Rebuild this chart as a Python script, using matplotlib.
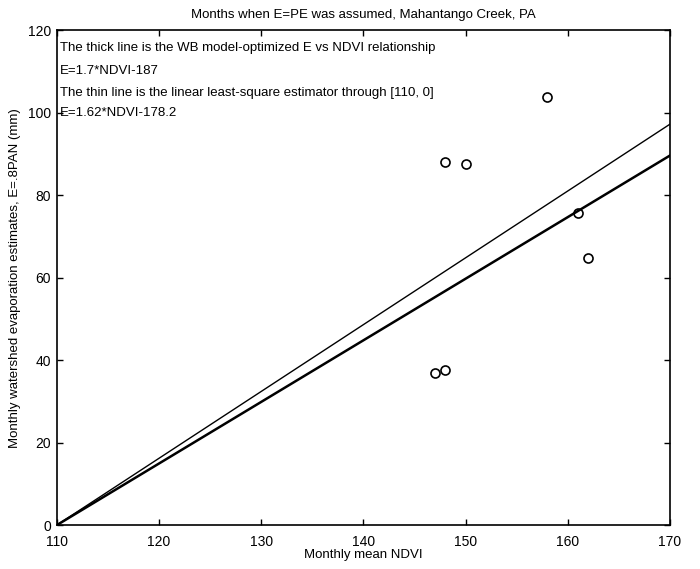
import matplotlib
matplotlib.use("Agg")
import matplotlib.pyplot as plt

# monthly points
ndvi = [147, 148, 148, 150, 158, 161, 162]
evap = [36.9, 37.6, 88.0, 87.6, 103.8, 75.6, 64.7]

# the two fitted lines, both start at (110, 0)
line_ndvi = [110, 170]
thick_e = [0, 89.6]
thin_e = [0, 97.2]

notes = [
    "The thick line is the WB model-optimized E vs NDVI relationship",
    "E=1.7*NDVI-187",
    "The thin line is the linear least-square estimator through [110, 0]",
    "E=1.62*NDVI-178.2",
]
note_y = [115.6, 110.0, 104.7, 99.8]

plt.rcParams['font.family'] = ['Liberation Sans', 'DejaVu Sans']

fig = plt.figure(figsize=(7, 5.69), dpi=100)
ax = fig.add_axes([0.081, 0.077, 0.876, 0.87])

ax.plot(ndvi, evap, 'o', mfc='none', mec='black', ms=6.5, mew=1.2)
ax.plot(line_ndvi, thick_e, color='black', lw=1.8)
ax.plot(line_ndvi, thin_e, color='black', lw=1.0)

for txt, y in zip(notes, note_y):
    ax.text(110.35, y, txt, fontsize=9.5, va='center', ha='left')

ax.set_xlim(110, 170)
ax.set_ylim(0, 120)
ax.set_xticks(range(110, 171, 10))
ax.set_yticks(range(0, 121, 20))
ax.tick_params(direction='in', top=True, right=True, labelsize=10, length=4, width=1)
ax.tick_params(axis='x', pad=7)
ax.tick_params(axis='y', pad=4)
for s in ax.spines.values():
    s.set_linewidth(1.2)

ax.set_xlabel("Monthly mean NDVI", fontsize=9.5, labelpad=0)
ax.set_ylabel("Monthly watershed evaporation estimates, E=.8PAN (mm)", fontsize=9.5, labelpad=5)
ax.set_title("Months when E=PE was assumed, Mahantango Creek, PA", fontsize=9.5, pad=9)

fig.savefig("out.png", dpi=100)
